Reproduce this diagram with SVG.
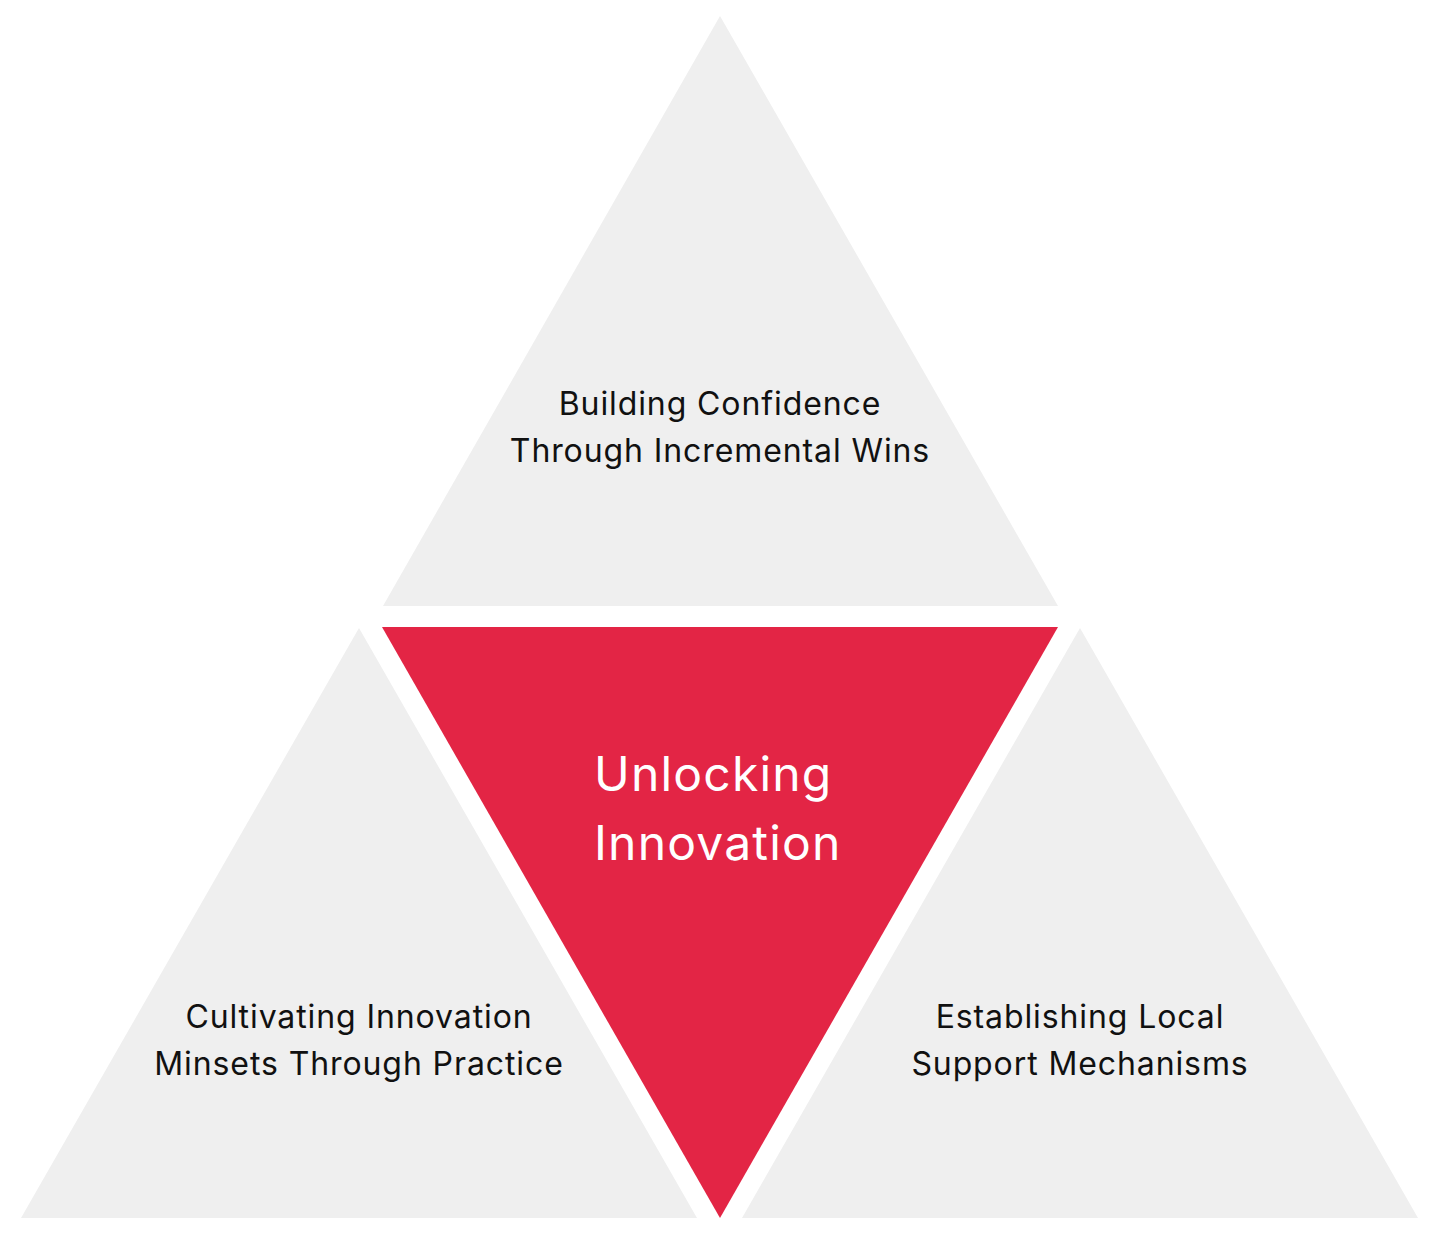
<svg xmlns="http://www.w3.org/2000/svg" width="1439" height="1242" viewBox="0 0 1439 1242">
<style>
.g{fill:#efefef}
.r{fill:#e32545}
.t{font-family:Inter,"Noto Sans",sans-serif;font-size:32px;letter-spacing:0.9px;fill:#111;text-anchor:middle}
.c{font-family:Inter,"Noto Sans",sans-serif;font-size:48px;letter-spacing:1.2px;fill:#fff}
</style>
<rect width="1439" height="1242" fill="#fff"/>
<g id="top">
<polygon class="g" points="720,16 1058,606 383,606"/>
<text class="t" x="720" y="415">Building Confidence</text>
<text class="t" x="720" y="462">Through Incremental Wins</text>
</g>
<g id="left">
<polygon class="g" points="359,628 697,1218 21,1218"/>
<text class="t" x="359" y="1028">Cultivating Innovation</text>
<text class="t" x="359" y="1075">Minsets Through Practice</text>
</g>
<g id="right">
<polygon class="g" points="1080,628 1418,1218 742,1218"/>
<text class="t" x="1080" y="1028">Establishing Local</text>
<text class="t" x="1080" y="1075">Support Mechanisms</text>
</g>
<g id="center">
<polygon class="r" points="382,627 1058,627 720,1218"/>
<text class="c" x="594" y="791">Unlocking</text>
<text class="c" x="594" y="860">Innovation</text>
</g>
<g id="connectors"/>
</svg>
